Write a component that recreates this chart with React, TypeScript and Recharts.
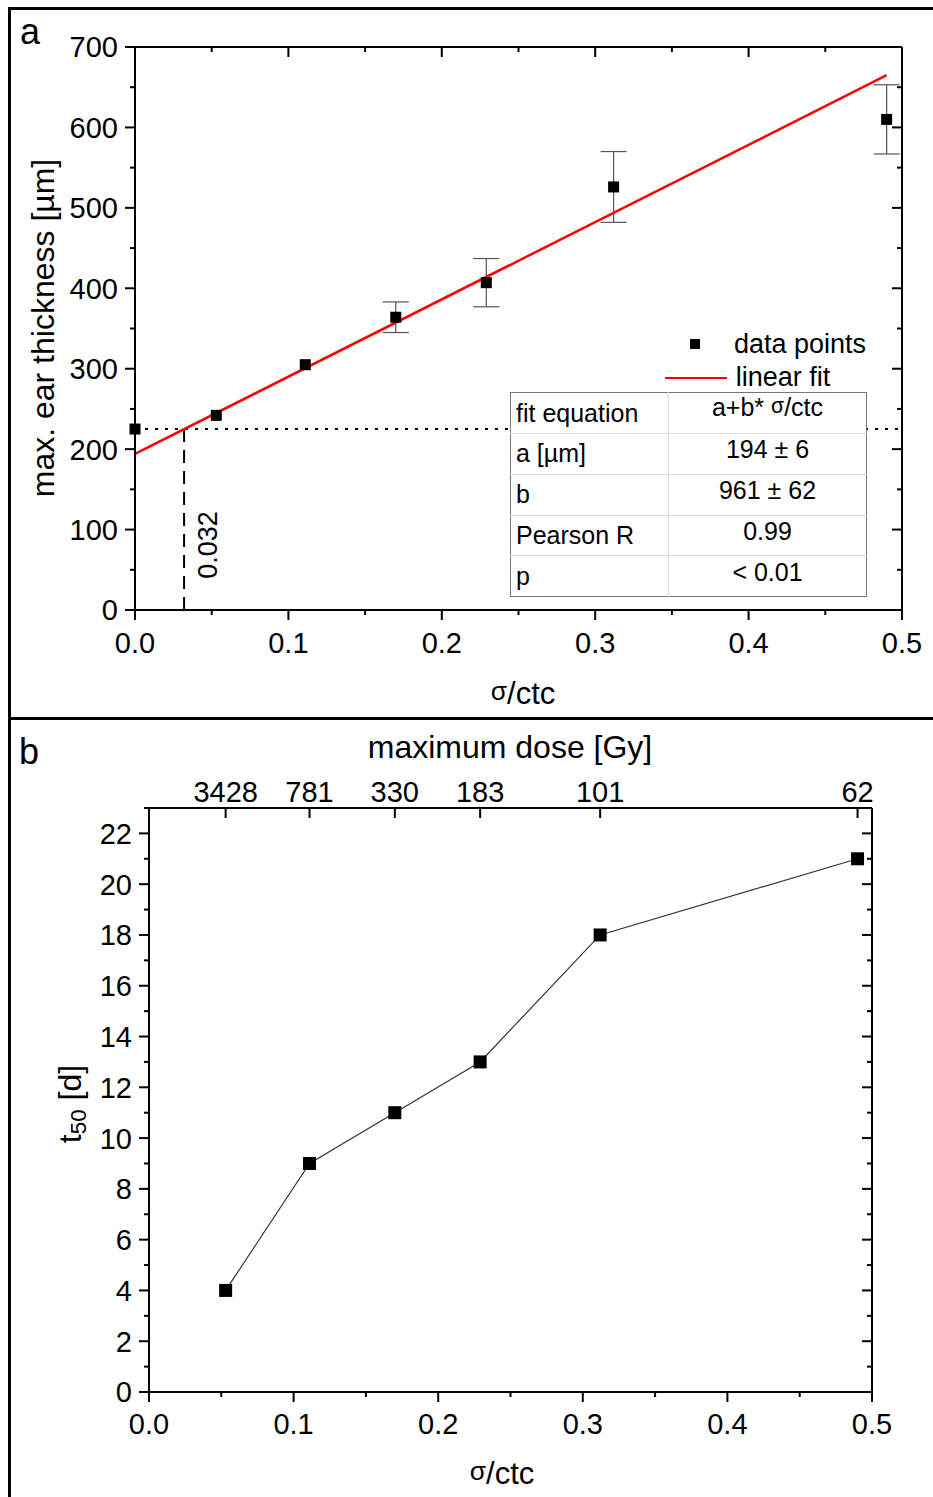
import React from 'react';
import { ComposedChart, Scatter, Line, XAxis, YAxis, ErrorBar, ReferenceLine } from 'recharts';

// panel a: ear thickness vs sigma/ctc
const sigmaCtc = [0, 0.053, 0.111, 0.17, 0.229, 0.312, 0.49];
const earThickness = [225, 242, 305, 364, 407, 526, 610];
const earError = [null, null, null, 19, 30, 44, 43];
const fitA = 194;
const fitB = 961;
const fitRange = [0, 0.49];
const thresholdY = 225;
const thresholdX = 0.032;

// panel b: t50 vs sigma/ctc, top axis = max dose
const sigmaCtcB = [0.053, 0.111, 0.17, 0.229, 0.312, 0.49];
const t50 = [4, 9, 11, 13, 18, 21];
const maxDose = ['3428', '781', '330', '183', '101', '62'];

const xTicks = [0, 0.05, 0.1, 0.15, 0.2, 0.25, 0.3, 0.35, 0.4, 0.45, 0.5];
const yTicksA = [0, 50, 100, 150, 200, 250, 300, 350, 400, 450, 500, 550, 600, 650, 700];
const yTicksB = [0, 1, 2, 3, 4, 5, 6, 7, 8, 9, 10, 11, 12, 13, 14, 15, 16, 17, 18, 19, 20, 21, 22, 23];

const tableRows = [
  ['fit equation', 'a+b* σ/ctc'],
  ['a [µm]', '194 ± 6'],
  ['b', '961 ± 62'],
  ['Pearson R', '0.99'],
  ['p', '< 0.01'],
];

const FONT = '"Liberation Sans", Arial, sans-serif';
const TICK_FS = 29;

const dataA = sigmaCtc.map((x, i) => ({ x, y: earThickness[i], err: earError[i] }));
const fitData = fitRange.map((x) => ({ x, fit: fitA + fitB * x }));
const dataB = sigmaCtcB.map((x, i) => ({ x, t: t50[i] }));

// one tick renderer for all four sides; ticks drawn by hand to get minor ticks
const makeTick =
  (side: string, isMajor: (v: number) => boolean, label: ((v: number, i: number) => string) | null, gap = 30) =>
  (props: any) => {
    const { x, y, payload, index } = props;
    const v = payload.value;
    const big = isMajor(v);
    const len = big ? 10 : 5;
    const txt = label && big ? label(v, index) : '';
    let line;
    let text = null;
    if (side === 'left') {
      line = <line x1={x} y1={y} x2={x - len} y2={y} stroke="#000" strokeWidth={2} />;
      if (txt) text = <text x={x - 17} y={y} dy="0.36em" textAnchor="end" fontSize={TICK_FS} fontFamily={FONT} fill="#000">{txt}</text>;
    } else if (side === 'bottom') {
      line = <line x1={x} y1={y} x2={x} y2={y + len} stroke="#000" strokeWidth={2} />;
      if (txt) text = <text x={x} y={y + gap} dy="0.36em" textAnchor="middle" fontSize={TICK_FS} fontFamily={FONT} fill="#000">{txt}</text>;
    } else if (side === 'top') {
      line = <line x1={x} y1={y} x2={x} y2={y + len} stroke="#000" strokeWidth={2} />;
      if (txt) text = <text x={x} y={y - 16} dy="0.36em" textAnchor="middle" fontSize={TICK_FS} fontFamily={FONT} fill="#000">{txt}</text>;
    } else {
      line = <line x1={x} y1={y} x2={x - len} y2={y} stroke="#000" strokeWidth={2} />;
    }
    return (
      <g>
        {line}
        {text}
      </g>
    );
  };

const Txt = ({ x, y, size = 30, rot = 0, children }: any) => (
  <div
    style={{
      position: 'absolute',
      left: x,
      top: y,
      transform: `translate(-50%, -50%) rotate(${rot}deg)`,
      fontSize: size,
      lineHeight: 1,
      whiteSpace: 'nowrap',
      fontFamily: FONT,
      color: '#000',
    }}
  >
    {children}
  </div>
);

const Sigma = () => <span style={{ fontSize: '0.85em', position: 'relative', top: '-0.15em' }}>σ</span>;

const squareA = (p: any) => <rect x={p.cx - 5.5} y={p.cy - 5.5} width={11} height={11} fill="#000" />;
const squareB = (p: any) => <rect key={p.index} x={p.cx - 6.5} y={p.cy - 6.5} width={13} height={13} fill="#000" />;
const noShape = () => <g />;

const majorX = (v: number) => Math.round(v * 100) % 10 === 0;
const axisStyle = { stroke: '#000', strokeWidth: 2 };

const App: React.FC = () => {
  return (
    <div style={{ position: 'absolute', left: 0, top: 0, width: 933, height: 1497, background: '#fff', overflow: 'hidden', fontFamily: FONT }}>
      {/* outer frame */}
      <div style={{ position: 'absolute', left: 8, top: 7, width: 940, height: 1500, borderLeft: '3px solid #000', borderTop: '3px solid #000' }} />
      <div style={{ position: 'absolute', left: 8, top: 717, width: 940, height: 0, borderTop: '3px solid #000' }} />

      {/* panel a */}
      <div style={{ position: 'absolute', left: 0, top: 0 }}>
        <ComposedChart width={933} height={718} margin={{ top: 46, right: 30, bottom: 48, left: 0 }}>
          <XAxis xAxisId="b" dataKey="x" type="number" domain={[0, 0.5]} ticks={xTicks} height={60}
            axisLine={axisStyle} tickLine={false} tickSize={0} tickMargin={0} interval={0}
            tick={makeTick('bottom', majorX, (v) => v.toFixed(1), 33)} />
          <XAxis xAxisId="t" orientation="top" dataKey="x" type="number" domain={[0, 0.5]} ticks={xTicks} height={1}
            axisLine={axisStyle} tickLine={false} tickSize={0} tickMargin={0} interval={0}
            tick={makeTick('top', majorX, null)} />
          <YAxis yAxisId="l" dataKey="y" type="number" domain={[0, 700]} ticks={yTicksA} width={135}
            axisLine={axisStyle} tickLine={false} tickSize={0} tickMargin={0} interval={0}
            tick={makeTick('left', (v) => v % 100 === 0, (v) => String(v))} />
          <YAxis yAxisId="r" orientation="right" dataKey="y" type="number" domain={[0, 700]} ticks={yTicksA} width={1}
            axisLine={axisStyle} tickLine={false} tickSize={0} tickMargin={0} interval={0}
            tick={makeTick('right', (v) => v % 100 === 0, null)} />
          <ReferenceLine xAxisId="b" yAxisId="l" y={thresholdY} stroke="#000" strokeWidth={2} strokeDasharray="3 7" />
          <ReferenceLine xAxisId="b" yAxisId="l" segment={[{ x: thresholdX, y: 0 }, { x: thresholdX, y: thresholdY }]}
            stroke="#000" strokeWidth={2} strokeDasharray="13 8" />
          <Line xAxisId="b" yAxisId="l" data={fitData} dataKey="fit" stroke="#ff0000" strokeWidth={2.5} dot={false}
            isAnimationActive={false} />
          <Scatter xAxisId="b" yAxisId="l" data={dataA} dataKey="y" shape={squareA} isAnimationActive={false}>
            <ErrorBar dataKey="err" direction="y" width={13} stroke="#555" strokeWidth={1.2} />
          </Scatter>
          {/* invisible series so the mirrored top/right axes get drawn */}
          <Scatter xAxisId="t" yAxisId="r" data={dataA} dataKey="y" shape={noShape} isAnimationActive={false} />
        </ComposedChart>
      </div>

      <Txt x={30} y={32} size={36}>a</Txt>
      <Txt x={43} y={328} size={32} rot={-90}>max. ear thickness [µm]</Txt>
      <Txt x={523} y={693} size={31}><Sigma />/ctc</Txt>
      <Txt x={208} y={545} size={27} rot={-90}>{String(thresholdX)}</Txt>

      {/* legend */}
      <div style={{ position: 'absolute', left: 690, top: 339, width: 10, height: 10, background: '#000' }} />
      <Txt x={800} y={344} size={27}>data points</Txt>
      <div style={{ position: 'absolute', left: 665, top: 377, width: 62, height: 2, background: '#ff0000' }} />
      <Txt x={783} y={377} size={27}>linear fit</Txt>

      {/* fit table */}
      <table
        style={{
          position: 'absolute', left: 510, top: 392, width: 357, height: 205, borderCollapse: 'collapse',
          background: '#fff', border: '1.5px solid #777', fontSize: 25, fontFamily: FONT,
        }}
      >
        <tbody>
          {tableRows.map((r, i) => (
            <tr key={i} style={{ borderTop: i ? '1px solid #ddd' : undefined }}>
              <td style={{ width: 152, padding: '0 0 0 5px', borderRight: '1px solid #ddd', lineHeight: 1 }}>{r[0]}</td>
              <td style={{ textAlign: 'center', padding: 0, lineHeight: 1, verticalAlign: 'middle' }}>
                {i === 0 ? <span style={{ position: 'relative', top: -5 }}>a+b* <Sigma />/ctc</span> : <span style={{ position: 'relative', top: -4 }}>{r[1]}</span>}
              </td>
            </tr>
          ))}
        </tbody>
      </table>

      {/* panel b */}
      <div style={{ position: 'absolute', left: 0, top: 718 }}>
        <ComposedChart width={933} height={779} margin={{ top: 89, right: 60, bottom: 45, left: 0 }}>
          <XAxis xAxisId="b" dataKey="x" type="number" domain={[0, 0.5]} ticks={xTicks} height={60}
            axisLine={axisStyle} tickLine={false} tickSize={0} tickMargin={0} interval={0}
            tick={makeTick('bottom', majorX, (v) => v.toFixed(1), 32)} />
          <XAxis xAxisId="t" orientation="top" dataKey="x" type="number" domain={[0, 0.5]} ticks={sigmaCtcB} height={1}
            axisLine={axisStyle} tickLine={false} tickSize={0} tickMargin={0} interval={0}
            tick={makeTick('top', () => true, (_v, i) => maxDose[i])} />
          <YAxis yAxisId="l" dataKey="t" type="number" domain={[0, 23]} ticks={yTicksB} width={149}
            axisLine={axisStyle} tickLine={false} tickSize={0} tickMargin={0} interval={0}
            tick={makeTick('left', (v) => v % 2 === 0, (v) => String(v))} />
          <YAxis yAxisId="r" orientation="right" dataKey="t" type="number" domain={[0, 23]} ticks={yTicksB} width={1}
            axisLine={axisStyle} tickLine={false} tickSize={0} tickMargin={0} interval={0}
            tick={makeTick('right', (v) => v % 2 === 0, null)} />
          <Line xAxisId="b" yAxisId="l" data={dataB} dataKey="t" stroke="#333" strokeWidth={1.2} dot={squareB}
            activeDot={false} isAnimationActive={false} />
          {/* invisible series so the mirrored top/right axes get drawn */}
          <Scatter xAxisId="t" yAxisId="r" data={dataB} dataKey="t" shape={noShape} isAnimationActive={false} />
        </ComposedChart>
      </div>

      <Txt x={29} y={752} size={36}>b</Txt>
      <Txt x={510} y={747} size={32}>maximum dose [Gy]</Txt>
      <Txt x={72} y={1104} size={32} rot={-90}>t<sub style={{ fontSize: '0.7em', verticalAlign: '-0.25em' }}>50</sub> [d]</Txt>
      <Txt x={502} y={1473} size={31}><Sigma />/ctc</Txt>
    </div>
  );
};

export default App;
